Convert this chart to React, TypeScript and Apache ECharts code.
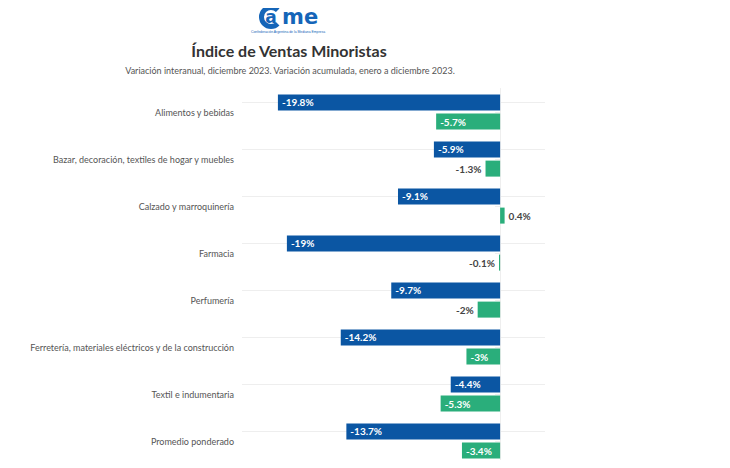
import React, { useEffect, useRef } from "react";
import * as echarts from "echarts";

const categories = [
  "Alimentos y bebidas",
  "Bazar, decoración, textiles de hogar y muebles",
  "Calzado y marroquinería",
  "Farmacia",
  "Perfumería",
  "Ferretería, materiales eléctricos y de la construcción",
  "Textil e indumentaria",
  "Promedio ponderado",
];

// Variación interanual, diciembre 2023 (%)
const interanual = [-19.8, -5.9, -9.1, -19, -9.7, -14.2, -4.4, -13.7];
// Variación acumulada, enero a diciembre 2023 (%)
const acumulada = [-5.7, -1.3, 0.4, -0.1, -2, -3, -5.3, -3.4];

const BLUE = "#0b56a3";
const GREEN = "#2aae7b";
const LOGO = "#1565b8";
const FONT = "Lato, 'Open Sans', sans-serif";
const LOGO_FONT = "'DejaVu Sans', 'Liberation Sans', Arial, sans-serif";

const fmt = (v: number) => `${v}%`;

// Long bars carry a white label inside their far end; short ones get a dark label outside.
function barItem(v: number) {
  const inside = Math.abs(v) >= 2.5;
  return {
    value: v,
    label: inside
      ? { show: true, position: "insideLeft", distance: 4, color: "#ffffff" }
      : { show: true, position: v < 0 ? "left" : "right", distance: 4, color: "#444444" },
  };
}

export default function App() {
  const ref = useRef<HTMLDivElement>(null);

  useEffect(() => {
    if (!ref.current) return;
    const chart = echarts.init(ref.current, undefined, { renderer: "svg" });

    const labelBase = {
      formatter: (p: any) => fmt(p.value),
      fontFamily: FONT,
      fontWeight: "bold" as const,
      fontSize: 10,
    };

    chart.setOption({
      animation: false,
      backgroundColor: "#ffffff",
      textStyle: { fontFamily: FONT },
      graphic: [
        // CAME logo: a thick "C" wrapping the "a", followed by "me"
        {
          type: "arc",
          shape: { cx: 271, cy: 17, r: 9.5, startAngle: Math.PI * 0.25, endAngle: Math.PI * 1.75 },
          style: { stroke: LOGO, lineWidth: 5, fill: "none" },
        },
        {
          type: "text",
          x: 271,
          y: 17,
          style: {
            text: "a",
            fontFamily: LOGO_FONT,
            fontWeight: "bold",
            fontSize: 17,
            fill: LOGO,
            align: "center",
            verticalAlign: "middle",
          },
        },
        {
          type: "text",
          x: 282,
          y: 17,
          style: {
            text: "me",
            fontFamily: LOGO_FONT,
            fontWeight: "bold",
            fontSize: 21,
            fill: LOGO,
            verticalAlign: "middle",
          },
        },
        {
          type: "text",
          x: 288,
          y: 30,
          style: {
            text: "Confederación Argentina de la Mediana Empresa",
            fontFamily: "'Liberation Sans', Arial, sans-serif",
            fontSize: 3.4,
            fill: LOGO,
            align: "center",
          },
        },
        {
          type: "text",
          x: 289,
          y: 42,
          style: {
            text: "Índice de Ventas Minoristas",
            fontFamily: FONT,
            fontWeight: "bold",
            fontSize: 16,
            fill: "#333333",
            align: "center",
          },
        },
        {
          type: "text",
          x: 290,
          y: 66,
          style: {
            text: "Variación interanual, diciembre 2023. Variación acumulada, enero a diciembre 2023.",
            fontFamily: FONT,
            fontSize: 9,
            fill: "#555555",
            align: "center",
          },
        },
      ],
      grid: { left: 242, right: 185, top: 88.5, bottom: 3.5 },
      xAxis: { type: "value", min: -23, max: 4, show: false },
      yAxis: {
        type: "category",
        data: categories,
        inverse: true,
        axisLine: { show: true, lineStyle: { color: "#eeeeee" } },
        axisTick: { show: true, alignWithLabel: true, length: 5, lineStyle: { color: "#eeeeee" } },
        axisLabel: { color: "#555555", fontSize: 9, fontFamily: FONT, margin: 8 },
        splitLine: { show: false },
      },
      series: [
        {
          name: "Variación interanual",
          type: "bar",
          barWidth: 16,
          barGap: "20%",
          itemStyle: { color: BLUE },
          label: labelBase,
          data: interanual.map(barItem),
          markLine: {
            silent: true,
            symbol: "none",
            label: { show: false },
            lineStyle: { color: "#eeeeee", type: "solid", width: 1 },
            data: categories.map((c) => ({ yAxis: c })),
            z: 0,
          },
        },
        {
          name: "Variación acumulada",
          type: "bar",
          barWidth: 16,
          barGap: "20%",
          itemStyle: { color: GREEN },
          label: labelBase,
          data: acumulada.map(barItem),
        },
      ],
    });

    return () => chart.dispose();
  }, []);

  return <div ref={ref} style={{ width: 730, height: 468, margin: -8 }} />;
}
